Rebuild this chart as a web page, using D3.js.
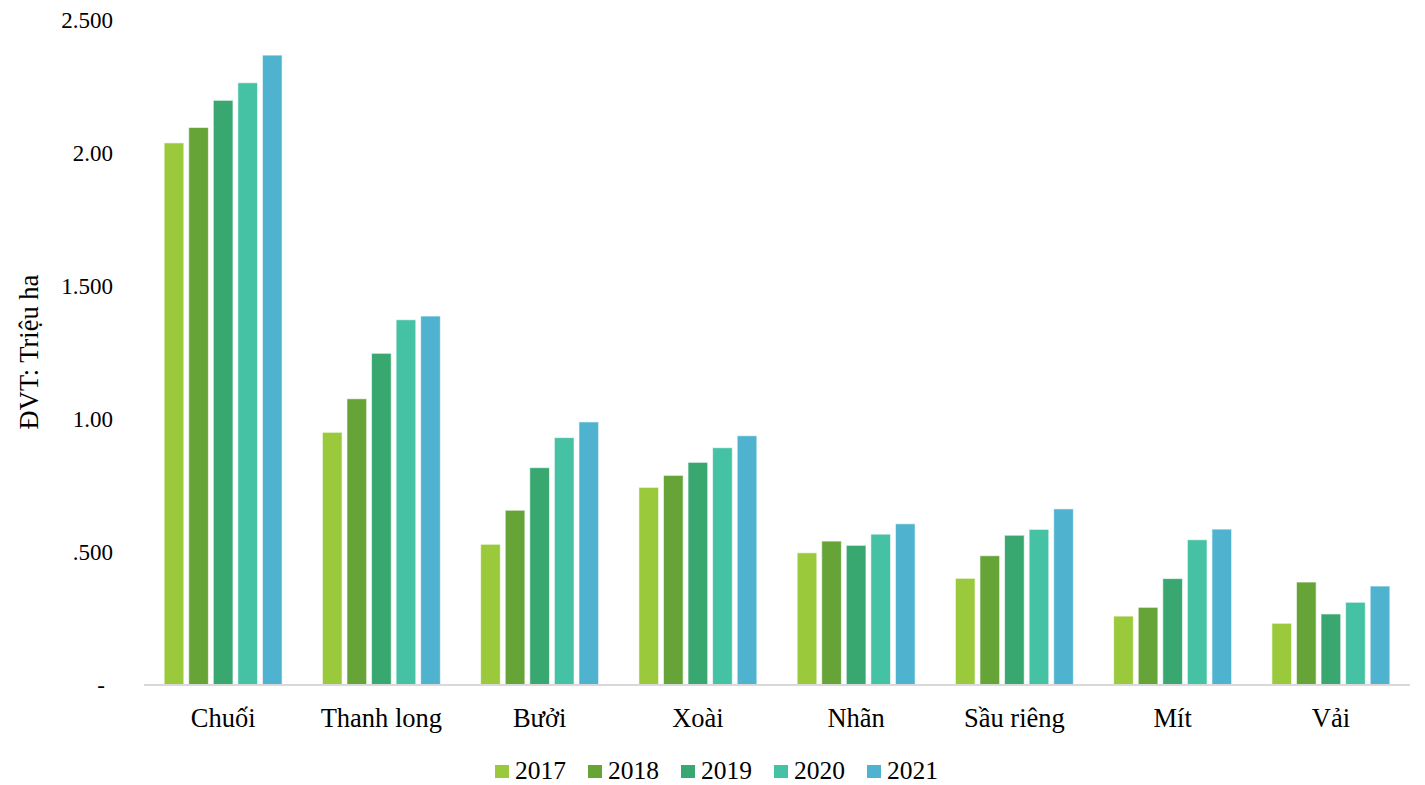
<!DOCTYPE html>
<html>
<head>
<meta charset="utf-8">
<script src="https://cdn.jsdelivr.net/npm/d3@7"></script>
<style>
html, body { margin: 0; padding: 0; background: #fff; }
svg { display: block; }
svg text { font-family: "Liberation Serif", "Times New Roman", serif !important; }
</style>
</head>
<body>
<svg id="chart" width="1425" height="785"></svg>
<script>
const categories = ["Chuối", "Thanh long", "Bưởi", "Xoài", "Nhãn", "Sầu riêng", "Mít", "Vải"];
const years = ["2017", "2018", "2019", "2020", "2021"];
const v2017 = [2.038, 0.950, 0.529, 0.743, 0.497, 0.401, 0.259, 0.232];
const v2018 = [2.096, 1.076, 0.657, 0.788, 0.541, 0.486, 0.292, 0.387];
const v2019 = [2.198, 1.247, 0.817, 0.837, 0.525, 0.563, 0.400, 0.267];
const v2020 = [2.264, 1.373, 0.930, 0.892, 0.567, 0.585, 0.546, 0.311];
const v2021 = [2.368, 1.387, 0.989, 0.937, 0.606, 0.662, 0.586, 0.372];
const tickValues = [0, 0.5, 1.0, 1.5, 2.0, 2.5];
const tickLabels = ["-", ".500", "1.00", "1.500", "2.00", "2.500"];
const yTitle = "ĐVT: Triệu ha";
const colors = ["#9ACA3C", "#66A438", "#38A870", "#45C1A3", "#4FB3CF"];

const series = [v2017, v2018, v2019, v2020, v2021];
const svg = d3.select("#chart");

const x0 = d3.scaleBand().domain(categories).range([144, 1410]).paddingInner(0).paddingOuter(0);
const x1 = d3.scaleBand().domain(years).range([0, x0.bandwidth()]).paddingInner(0.2).paddingOuter(0.82);
const y = d3.scaleLinear().domain([0, 2.5]).range([685, 20]);

// y-axis labels
const yAxis = d3.axisLeft(y).tickValues(tickValues).tickSize(0).tickPadding(0)
  .tickFormat((d, i) => tickLabels[i]);
const yg = svg.append("g").attr("transform", "translate(113,0)").call(yAxis);
yg.select(".domain").remove();
yg.selectAll("text").attr("font-size", 23).attr("fill", "#000");
yg.selectAll(".tick").filter(d => d === 0).select("text").attr("dx", -8);

// bars
const groups = svg.append("g").selectAll("g").data(categories).join("g")
  .attr("transform", d => `translate(${x0(d)},0)`);
groups.selectAll("rect")
  .data((c, ci) => years.map((yr, yi) => ({ yr, yi, v: series[yi][ci] })))
  .join("rect")
  .attr("x", d => x1(d.yr))
  .attr("width", x1.bandwidth())
  .attr("y", d => y(d.v))
  .attr("height", d => y(0) - y(d.v))
  .attr("fill", d => colors[d.yi])
  .attr("stroke", "#ffffff")
  .attr("stroke-opacity", 0.6)
  .attr("stroke-width", 1);

// x axis line
svg.append("line").attr("x1", 144).attr("x2", 1410).attr("y1", y(0)).attr("y2", y(0))
  .attr("stroke", "#D9D9D9").attr("stroke-width", 2);

// category labels
const xAxis = d3.axisBottom(x0).tickSize(0).tickPadding(0);
const xg = svg.append("g").attr("transform", `translate(0,${y(0)})`).call(xAxis);
xg.select(".domain").remove();
xg.selectAll("text").attr("font-size", 26.5).attr("fill", "#000").attr("dy", null).attr("y", 42);

// y title
svg.append("text").attr("transform", "translate(38,352) rotate(-90)")
  .attr("text-anchor", "middle").attr("font-size", 26.5).attr("fill", "#000").text(yTitle);

// legend
const legend = svg.append("g").selectAll("g").data(years).join("g")
  .attr("transform", (d, i) => `translate(${495 + i * 93},0)`);
legend.append("rect").attr("x", 0).attr("y", 765).attr("width", 14).attr("height", 13)
  .attr("fill", (d, i) => colors[i]);
legend.append("text").attr("x", 20).attr("y", 779).attr("font-size", 25.5).attr("fill", "#000").text(d => d);
</script>
</body>
</html>
